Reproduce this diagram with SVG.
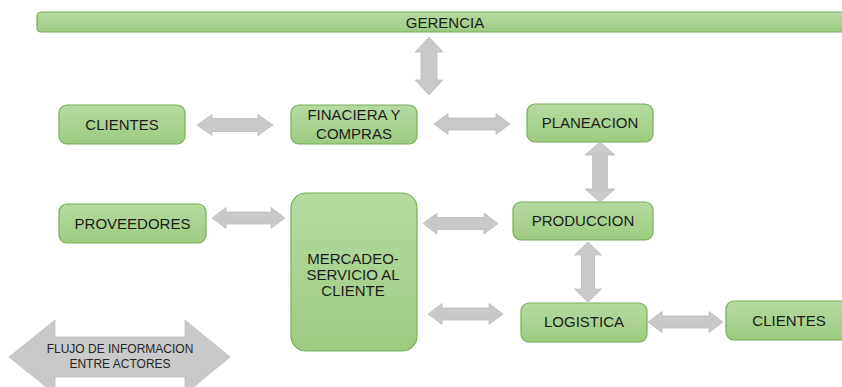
<svg xmlns="http://www.w3.org/2000/svg" width="842" height="387" viewBox="0 0 842 387">
<defs>
<linearGradient id="g" x1="0" y1="0" x2="0" y2="1">
<stop offset="0" stop-color="#b6daa1"/>
<stop offset="1" stop-color="#9dcb7f"/>
</linearGradient>
</defs>
<style>
.box{fill:url(#g);stroke:#77ad57;stroke-width:1.2}
.t{font-family:"Liberation Sans",Arial,sans-serif;font-size:15px;fill:#1c1c1c;text-anchor:middle}
.lt{font-family:"Liberation Sans",Arial,sans-serif;font-size:12px;fill:#262626;text-anchor:middle}
.ar{fill:#c9c9c9;stroke:#bdbdbd;stroke-width:0.8}
</style>
<rect width="842" height="387" fill="#ffffff"/>
<g id="gerencia"><rect class="box" x="37" y="12" width="810" height="20" rx="4"/><text class="t" x="445" y="27.5">GERENCIA</text></g>
<g id="clientes1"><rect class="box" x="59" y="105" width="126" height="39" rx="8"/><text class="t" x="122" y="130">CLIENTES</text></g>
<g id="financiera"><rect class="box" x="291" y="105" width="126" height="39" rx="8"/><text class="t" x="354" y="120">FINACIERA Y</text><text class="t" x="354" y="138.5">COMPRAS</text></g>
<g id="planeacion"><rect class="box" x="527" y="104" width="126" height="38" rx="8"/><text class="t" x="590" y="127.5">PLANEACION</text></g>
<g id="proveedores"><rect class="box" x="59" y="204" width="147" height="39" rx="8"/><text class="t" x="132.5" y="229">PROVEEDORES</text></g>
<g id="mercadeo"><rect class="box" x="291" y="193" width="126" height="158" rx="15"/><text class="t" x="353" y="263.5">MERCADEO-</text><text class="t" x="353" y="280">SERVICIO AL</text><text class="t" x="353" y="295.5">CLIENTE</text></g>
<g id="produccion"><rect class="box" x="513" y="202" width="140" height="38" rx="8"/><text class="t" x="583" y="225.5">PRODUCCION</text></g>
<g id="logistica"><rect class="box" x="521" y="303" width="126" height="39" rx="8"/><text class="t" x="584" y="326.5">LOGISTICA</text></g>
<g id="clientes2"><rect class="box" x="726" y="301" width="126" height="39" rx="8"/><text class="t" x="789" y="325.5">CLIENTES</text></g>
<g id="connectors">
<polygon class="ar" points="429,37 443,52 437,52 437,80 443,80 429,95 415,80 421,80 421,52 415,52"/>
<polygon class="ar" points="197,125 212,114.5 212,118.5 258,118.5 258,114.5 273,125 258,135.5 258,131.5 212,131.5 212,135.5"/>
<polygon class="ar" points="434,124 448,113.5 448,118 496,118 496,113.5 510,124 496,134.5 496,130 448,130 448,134.5"/>
<polygon class="ar" points="600,142 615,155 607.5,155 607.5,189 615,189 600,202 585,189 592.5,189 592.5,155 585,155"/>
<polygon class="ar" points="212,218 226,207.5 226,212 271,212 271,207.5 285,218 271,228.5 271,224 226,224 226,228.5"/>
<polygon class="ar" points="423,223.5 437,213 437,217.5 484,217.5 484,213 498,223.5 484,234 484,229.5 437,229.5 437,234"/>
<polygon class="ar" points="588,242 601.5,255 594.5,255 594.5,289 601.5,289 588,302 574.5,289 581.5,289 581.5,255 574.5,255"/>
<polygon class="ar" points="428,314 442,303.5 442,308 489,308 489,303.5 503,314 489,324.5 489,320 442,320 442,324.5"/>
<polygon class="ar" points="648,322 662,311.5 662,316 709,316 709,311.5 723,322 709,332.5 709,328 662,328 662,332.5"/>
</g>
<g id="legend">
<polygon class="ar" points="9,357 55,320 55,337 185,337 185,320 230,357 185,394 185,377 55,377 55,394"/>
<text class="lt" x="120" y="353">FLUJO DE INFORMACION</text>
<text class="lt" x="120" y="367.5">ENTRE ACTORES</text>
</g>
</svg>
